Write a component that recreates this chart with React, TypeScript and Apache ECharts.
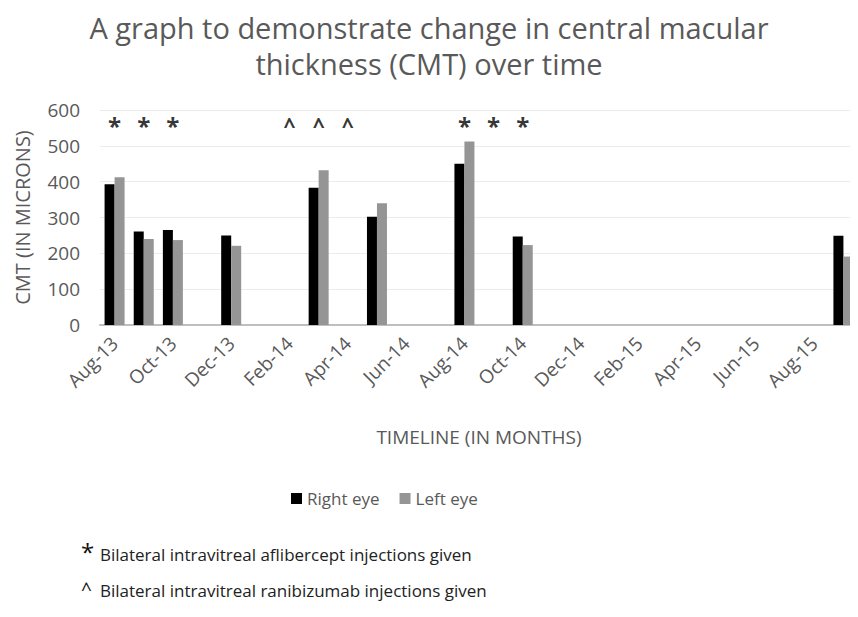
import React, { useEffect, useRef } from "react";
import * as echarts from "echarts";

const months = [
  "Aug-13", "Sep-13", "Oct-13", "Nov-13", "Dec-13", "Jan-14", "Feb-14", "Mar-14", "Apr-14",
  "May-14", "Jun-14", "Jul-14", "Aug-14", "Sep-14", "Oct-14", "Nov-14", "Dec-14", "Jan-15",
  "Feb-15", "Mar-15", "Apr-15", "May-15", "Jun-15", "Jul-15", "Aug-15", "Sep-15",
];
const rightEye = [393, 261, 265, null, 250, null, null, 383, null, 302, null, null, 450, null, 247, null, null, null, null, null, null, null, null, null, null, 249];
const leftEye = [412, 240, 237, null, 221, null, null, 432, null, 340, null, null, 512, null, 223, null, null, null, null, null, null, null, null, null, null, 191];
const afliberceptMonths = ["Aug-13", "Sep-13", "Oct-13", "Aug-14", "Sep-14", "Oct-14"];
const ranibizumabMonths = ["Feb-14", "Mar-14", "Apr-14"];
const markerLevel = 572;
const yTicks = [0, 100, 200, 300, 400, 500, 600];

const FONT = "Open Sans";
const GREY_TEXT = "#595959";

export default function App() {
  const ref = useRef<HTMLDivElement>(null);
  useEffect(() => {
    const chart = echarts.init(ref.current!, null, { renderer: "svg" });
    chart.setOption({
      animation: false,
      backgroundColor: "#ffffff",
      textStyle: { fontFamily: FONT },
      title: {
        text: "A graph to demonstrate change in central macular\nthickness (CMT) over time",
        left: "center",
        top: 4,
        textStyle: { fontFamily: FONT, fontSize: 29, fontWeight: "normal", color: GREY_TEXT, lineHeight: 36 },
      },
      legend: {
        data: ["Right eye", "Left eye"],
        left: 286,
        top: 485,
        itemWidth: 11,
        itemHeight: 11,
        itemGap: 20,
        icon: "rect",
        textStyle: { fontFamily: FONT, fontSize: 17, color: GREY_TEXT },
      },
      grid: { left: 100, top: 110, width: 762, bottom: 292, containLabel: false },
      xAxis: {
        type: "category",
        data: months,
        name: "TIMELINE (IN MONTHS)",
        nameLocation: "middle",
        nameGap: 102,
        nameTextStyle: { fontFamily: FONT, fontSize: 19, color: GREY_TEXT },
        axisLine: { lineStyle: { color: "#bfbfbf", width: 2 } },
        axisTick: { show: false },
        axisLabel: { interval: 1, rotate: 45, fontFamily: FONT, fontSize: 19, color: GREY_TEXT, margin: 15 },
        splitLine: { show: false },
      },
      yAxis: {
        type: "value",
        min: yTicks[0],
        max: yTicks[yTicks.length - 1],
        interval: 100,
        name: "CMT (IN MICRONS)",
        nameLocation: "middle",
        nameGap: 68,
        nameRotate: 90,
        nameTextStyle: { fontFamily: FONT, fontSize: 20, color: GREY_TEXT },
        axisLine: { show: false },
        axisTick: { show: false },
        axisLabel: { fontFamily: FONT, fontSize: 19, color: GREY_TEXT, margin: 20 },
        splitLine: { lineStyle: { color: "#ececec", width: 1 } },
      },
      series: [
        {
          name: "Right eye",
          type: "bar",
          data: rightEye,
          barWidth: 10,
          barGap: "0%",
          itemStyle: { color: "#000000" },
        },
        {
          name: "Left eye",
          type: "bar",
          data: leftEye,
          barWidth: 10,
          barGap: "0%",
          itemStyle: { color: "#959595" },
        },
        {
          name: "aflibercept",
          type: "scatter",
          data: afliberceptMonths.map((m) => [m, markerLevel]),
          symbolSize: 1,
          itemStyle: { color: "rgba(0,0,0,0)" },
          label: { show: true, position: "inside", formatter: "*", fontFamily: FONT, fontSize: 24, fontWeight: "bold", color: "#000", offset: [0, 5] },
          silent: true,
        },
        {
          name: "ranibizumab",
          type: "scatter",
          data: ranibizumabMonths.map((m) => [m, markerLevel]),
          symbolSize: 1,
          itemStyle: { color: "rgba(0,0,0,0)" },
          label: { show: true, position: "inside", formatter: "^", fontFamily: FONT, fontSize: 21, fontWeight: "bold", color: "#000", offset: [0, 5] },
          silent: true,
        },
      ],
      graphic: [
        { type: "text", left: 81, top: 539, style: { text: "*", fontFamily: FONT, fontSize: 24, fill: "#111" } },
        { type: "text", left: 100, top: 546, style: { text: "Bilateral intravitreal aflibercept injections given", fontFamily: FONT, fontSize: 17, fill: "#222" } },
        { type: "text", left: 81, top: 579, style: { text: "^", fontFamily: FONT, fontSize: 19, fill: "#111" } },
        { type: "text", left: 100, top: 582, style: { text: "Bilateral intravitreal ranibizumab injections given", fontFamily: FONT, fontSize: 17, fill: "#222" } },
      ],
    });
    return () => chart.dispose();
  }, []);
  return <div ref={ref} style={{ width: 858, height: 617, margin: -8 }} />;
}
